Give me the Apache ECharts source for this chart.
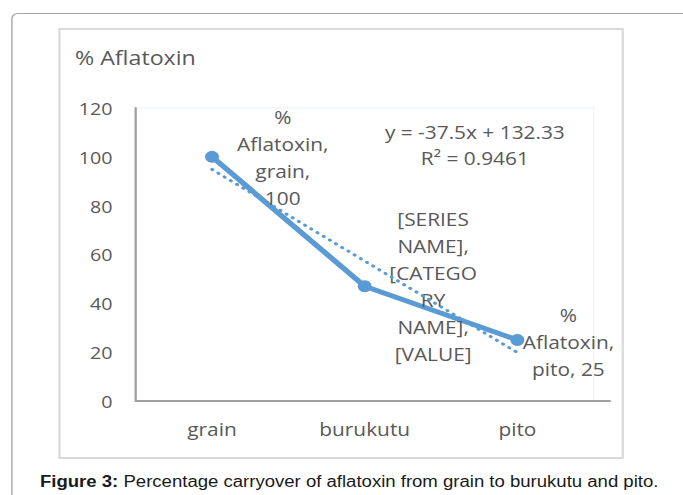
<!DOCTYPE html>
<html>
<head>
<meta charset="utf-8">
<script src="https://cdn.jsdelivr.net/npm/echarts@6/dist/echarts.min.js"></script>
<style>
  html, body { margin: 0; padding: 0; background: #fff; overflow: hidden; }
  /* the source picture is stretched sideways, so the chart is too */
  #main { width: 589px; height: 495px; transform: scaleX(1.1596); transform-origin: 0 0; }
</style>
</head>
<body>
<div id="main"></div>
<script>
var categories = ['grain', 'burukutu', 'pito'];
var aflatoxin = [100, 47, 25];
var trendValues = [94.83, 57.33, 19.83];
var yTicks = { min: 0, max: 120, interval: 20 };
var labelLines = [
  '%\nAflatoxin,\ngrain,\n100',
  '[SERIES\nNAME],\n[CATEGO\nRY\nNAME],\n[VALUE]',
  '%\nAflatoxin,\npito, 25'
];
var labelOffsets = [[61, 1], [59, 0], [44, 2]];
var trendText = 'y = -37.5x + 132.33\nR\u00b2 = 0.9461';

var font = 'Open Sans';
var grey = '#595959';
var blue = '#5b9bd5';

var chart = echarts.init(document.getElementById('main'), null, { renderer: 'svg' });
chart.setOption({
  animation: false,
  grid: {
    left: 117, top: 108, width: 395, height: 293,
    show: true, borderColor: '#eef3fa', borderWidth: 1
  },
  xAxis: {
    type: 'category',
    data: categories,
    axisLine: { lineStyle: { color: '#a0a0a0', width: 2 } },
    axisTick: { show: false },
    axisLabel: { color: grey, fontSize: 18, fontFamily: font, margin: 19 }
  },
  yAxis: {
    type: 'value',
    min: yTicks.min, max: yTicks.max, interval: yTicks.interval,
    axisLine: { show: true, lineStyle: { color: '#a0a0a0', width: 2 } },
    axisTick: { show: false },
    splitLine: { show: false },
    axisLabel: { color: grey, fontSize: 17, fontFamily: font, margin: 20 }
  },
  series: [
    {
      name: '% Aflatoxin',
      type: 'line',
      data: aflatoxin.map(function (v, i) {
        return { value: v, label: { offset: labelOffsets[i] } };
      }),
      symbol: 'circle',
      symbolSize: 12,
      lineStyle: { color: blue, width: 5 },
      itemStyle: { color: blue },
      label: {
        show: true,
        position: 'inside',
        align: 'center',
        verticalAlign: 'middle',
        color: grey,
        fontSize: 18,
        lineHeight: 27,
        fontFamily: font,
        formatter: function (p) { return labelLines[p.dataIndex]; }
      },
      z: 3
    },
    {
      name: 'trend',
      type: 'line',
      data: trendValues,
      symbol: 'none',
      silent: true,
      lineStyle: { color: blue, width: 3, type: [0.5, 6], cap: 'round' },
      z: 4
    }
  ],
  graphic: [
    {
      type: 'rect', silent: true, z: -1,
      shape: { x: 10.3, y: 13.5, width: 700, height: 700, r: 5 },
      style: { fill: 'none', stroke: '#a6a6a6', lineWidth: 1.2 }
    },
    {
      type: 'rect', silent: true, z: -1,
      shape: { x: 51.3, y: 29, width: 485.7, height: 429 },
      style: { fill: 'none', stroke: '#dadada', lineWidth: 2 }
    },
    {
      type: 'line', silent: true,
      shape: { x1: 512, y1: 401, x2: 526.7, y2: 401 },
      style: { stroke: '#a0a0a0', lineWidth: 2 }
    },
    {
      type: 'line', silent: true,
      shape: { x1: 512, y1: 108, x2: 512, y2: 400 },
      style: {
        stroke: new echarts.graphic.LinearGradient(0, 0, 0, 1, [
          { offset: 0, color: '#f2f6fc' },
          { offset: 0.4, color: '#e6eef9' },
          { offset: 1, color: '#b9d1ee' }
        ]),
        lineWidth: 1.2
      }
    },
    {
      type: 'text', silent: true,
      style: {
        x: 64.7, y: 57, text: '% Aflatoxin',
        fill: grey, font: '20px "Open Sans"', verticalAlign: 'middle'
      }
    },
    {
      type: 'text', silent: true, z: 5,
      style: {
        x: 409.5, y: 145, text: trendText,
        fill: grey, font: '18px "Open Sans"', lineHeight: 26,
        align: 'center', verticalAlign: 'middle'
      }
    },
    {
      type: 'text', silent: true,
      style: {
        x: 34.5, y: 481,
        text: '{b|Figure 3:} Percentage carryover of aflatoxin from grain to burukutu and pito.',
        fill: '#1a1a1a', font: '16px "Liberation Sans"', verticalAlign: 'middle',
        rich: {
          b: { fontWeight: 'bold', fontSize: 16, fontFamily: 'Liberation Sans', fill: '#1a1a1a' }
        }
      }
    }
  ]
});
</script>
</body>
</html>
